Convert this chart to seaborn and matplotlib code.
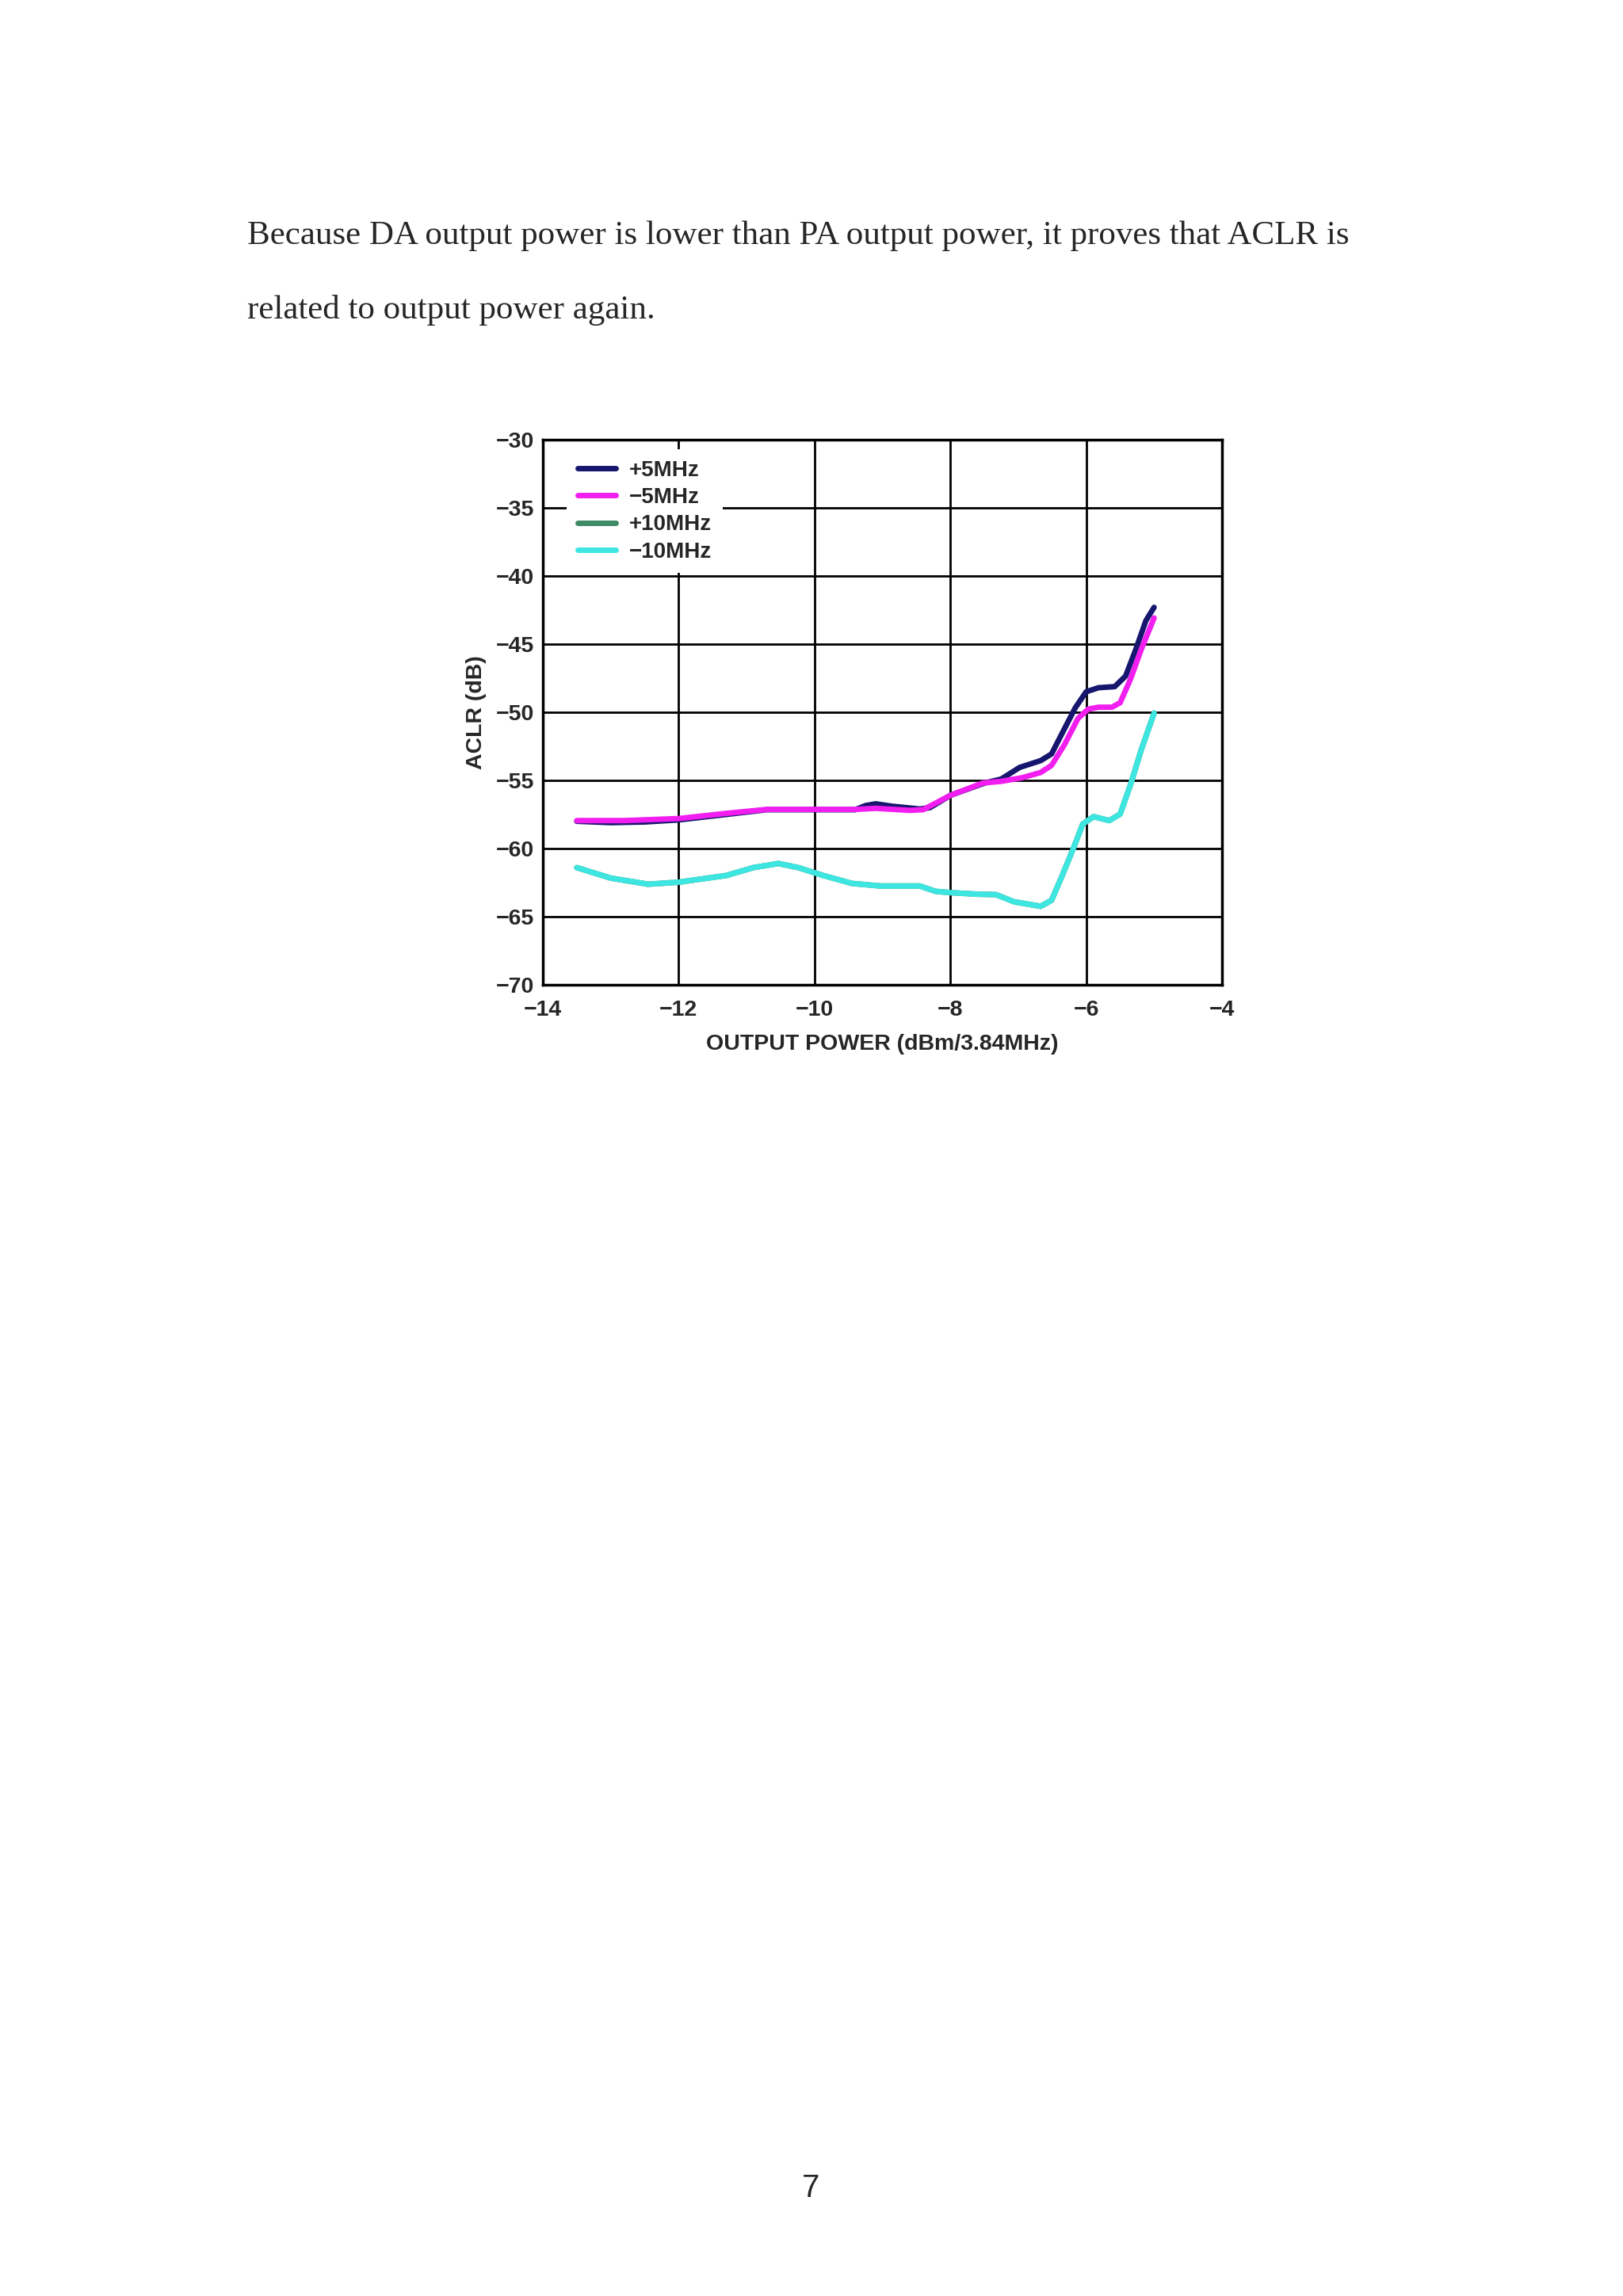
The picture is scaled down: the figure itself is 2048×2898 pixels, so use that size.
import numpy as np
import pandas as pd
import seaborn as sns
import matplotlib.pyplot as plt

# ACLR vs output power
x_p5 = [-13.5, -13.0, -12.5, -12.0, -11.3, -10.7, -10.0, -9.4, -9.25, -9.1,
        -8.85, -8.45, -8.3, -8.0, -7.5, -7.25, -6.98, -6.67, -6.51, -6.36,
        -6.16, -6.0, -5.82, -5.58, -5.42, -5.27, -5.12, -5.0]
y_p5 = [-58.0, -58.1, -58.05, -57.9, -57.5, -57.15, -57.15, -57.15, -56.85, -56.72,
        -56.9, -57.1, -57.0, -56.1, -55.2, -54.9, -54.05, -53.55, -53.06, -51.6,
        -49.67, -48.5, -48.2, -48.12, -47.35, -45.4, -43.27, -42.3]

x_m5 = [-13.5, -12.8, -12.0, -11.3, -10.7, -10.0, -9.4, -9.1, -8.6, -8.4,
        -8.0, -7.52, -7.25, -6.94, -6.67, -6.51, -6.32, -6.12, -5.97, -5.82,
        -5.62, -5.5, -5.345, -5.19, -5.0]
y_m5 = [-57.95, -57.95, -57.8, -57.42, -57.13, -57.13, -57.13, -57.05, -57.2, -57.15,
        -56.1, -55.19, -55.07, -54.8, -54.42, -53.9, -52.38, -50.45, -49.77, -49.63,
        -49.63, -49.3, -47.54, -45.4, -43.08]

x_10 = [-13.5, -13.0, -12.45, -12.0, -11.3, -10.9, -10.53, -10.24, -9.87, -9.45,
        -9.03, -8.45, -8.22, -7.99, -7.6, -7.33, -7.06, -6.67, -6.51, -6.36,
        -6.2, -6.05, -5.89, -5.66, -5.5, -5.345, -5.19, -5.0]
y_p10 = [-61.4, -62.17, -62.62, -62.47, -61.98, -61.4, -61.1, -61.4, -61.98, -62.56,
         -62.75, -62.75, -63.14, -63.24, -63.35, -63.38, -63.91, -64.24, -63.8, -62.07,
         -60.13, -58.2, -57.66, -57.95, -57.47, -55.29, -52.77, -50.06]
y_m10 = [-61.4, -62.17, -62.62, -62.47, -61.98, -61.4, -61.1, -61.4, -61.98, -62.56,
         -62.75, -62.75, -63.14, -63.24, -63.35, -63.38, -63.91, -64.24, -63.8, -62.07,
         -60.13, -58.2, -57.66, -57.95, -57.47, -55.29, -52.77, -50.06]

labels = ['+5MHz', '\u22125MHz', '+10MHz', '\u221210MHz']
colors = ['#16166e', '#f21ef0', '#3f8a68', '#3de6e0']

df = pd.concat([
    pd.DataFrame({'x': x_p5, 'y': y_p5, 'series': labels[0]}),
    pd.DataFrame({'x': x_m5, 'y': y_m5, 'series': labels[1]}),
    pd.DataFrame({'x': x_10, 'y': y_p10, 'series': labels[2]}),
    pd.DataFrame({'x': x_10, 'y': y_m10, 'series': labels[3]}),
])

sns.set_style('white')
plt.rcParams['font.family'] = ['Liberation Sans', 'DejaVu Sans']

fig = plt.figure(figsize=(20.48, 28.98), dpi=100)
fig.patch.set_facecolor('white')

# page text
serif = ['Liberation Serif', 'DejaVu Serif']
fig.text(312 / 2048, 1 - 308 / 2898,
         'Because DA output power is lower than PA output power, it proves that ACLR is',
         fontsize=31, family=serif, va='baseline', ha='left')
fig.text(312 / 2048, 1 - 402 / 2898, 'related to output power again.',
         fontsize=31, family=serif, va='baseline', ha='left')
fig.text(1023 / 2048, 1 - 2762 / 2898, '7', fontsize=29, ha='center', va='center')

ax = fig.add_axes([685 / 2048, 1 - 1243 / 2898, 857 / 2048, 688 / 2898])

sns.lineplot(data=df, x='x', y='y', hue='series', hue_order=labels,
             palette=dict(zip(labels, colors)), sort=False, estimator=None,
             linewidth=5, ax=ax, zorder=3)
for ln in ax.get_lines():
    ln.set_solid_joinstyle('round')
    ln.set_solid_capstyle('round')

ax.set_xlim(-14, -4)
ax.set_ylim(-70, -30)
ax.set_xticks(np.arange(-14, -3, 2))
ax.set_yticks(np.arange(-70, -29, 5))
ax.grid(True, color='black', linewidth=2)
ax.set_axisbelow(True)
for s in ax.spines.values():
    s.set_color('black')
    s.set_linewidth(2.5)
ax.tick_params(length=0, labelsize=20.5)
ax.tick_params(axis='x', pad=14)
ax.tick_params(axis='y', pad=8)
for t in ax.get_xticklabels() + ax.get_yticklabels():
    t.set_fontweight('bold')

ax.set_xlabel('OUTPUT POWER (dBm/3.84MHz)', fontsize=20.5, fontweight='bold', labelpad=12)
ax.set_ylabel('ACLR (dB)', fontsize=20.5, fontweight='bold', labelpad=8)

leg = ax.legend(loc='upper left', bbox_to_anchor=(0.035, 0.983), borderaxespad=0,
                frameon=True, fancybox=False, facecolor='white', edgecolor='none',
                framealpha=1, prop={'size': 20, 'weight': 'bold'},
                handlelength=1.75, handletextpad=0.6, labelspacing=0.3, borderpad=0.5)
for h in leg.get_lines():
    h.set_linewidth(5)

fig.savefig('out.png', dpi=100)
